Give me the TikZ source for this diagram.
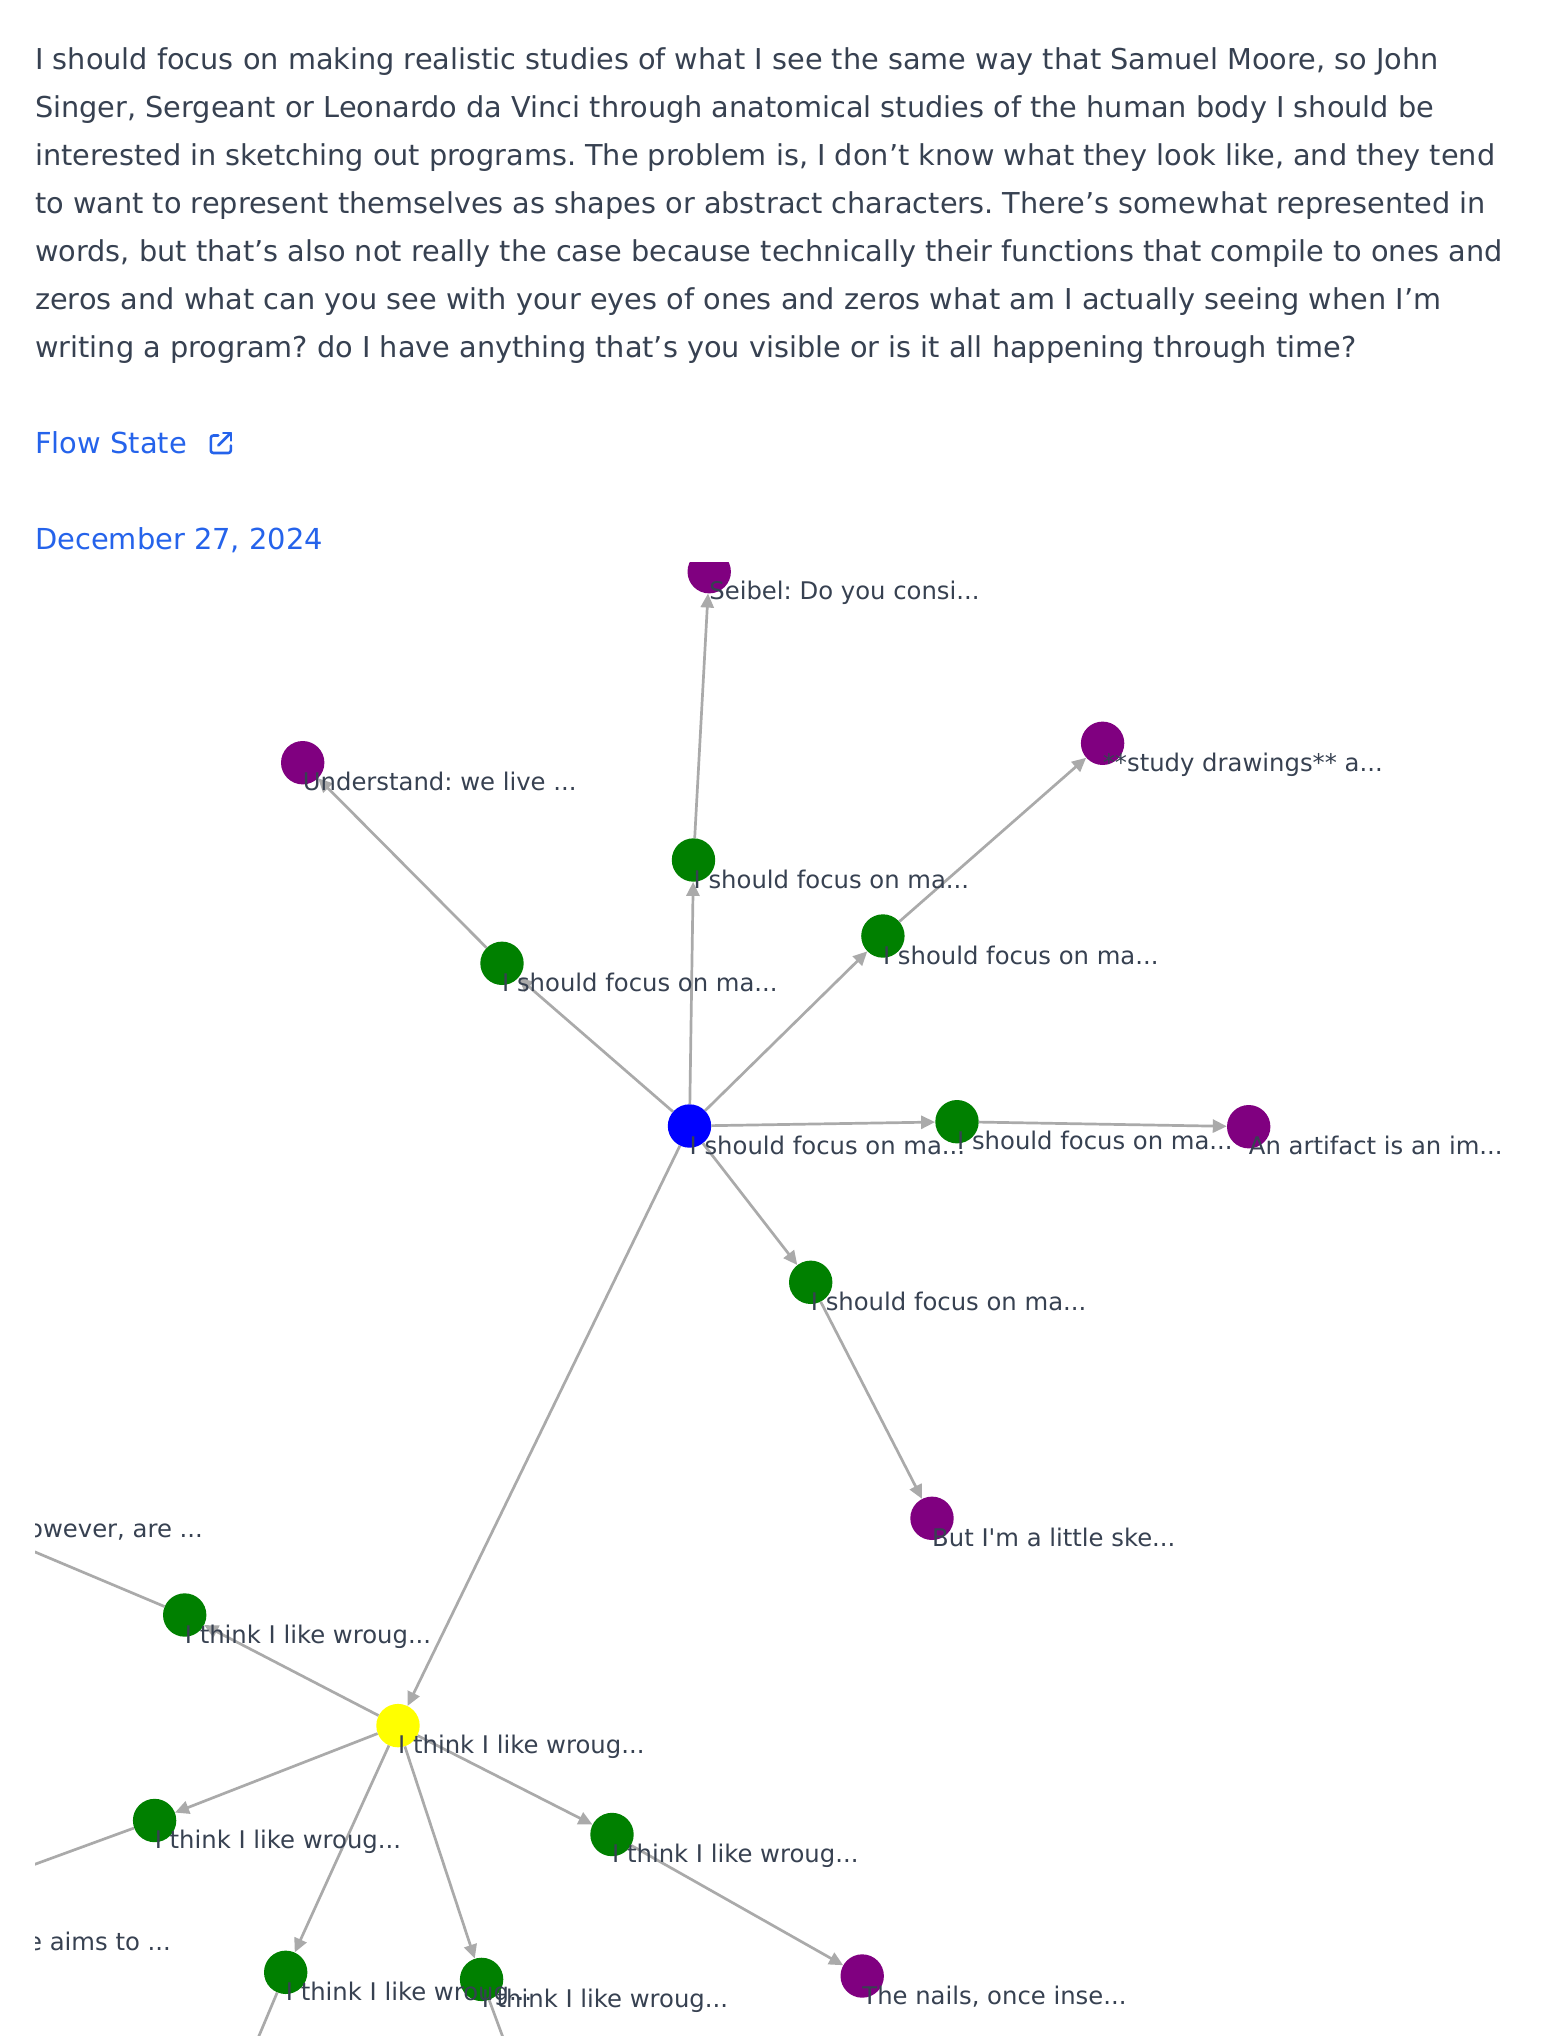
\documentclass[tikz,border=0pt]{standalone}
\usepackage{fontspec}
\setmainfont{DejaVu Sans}[Ligatures=TeXOff]
\usetikzlibrary{arrows.meta,calc}
\definecolor{txt}{HTML}{374151}
\definecolor{lnk}{HTML}{2563EB}
\definecolor{edgegray}{HTML}{AAAAAA}
\definecolor{ngreen}{HTML}{008000}
\definecolor{npurple}{HTML}{800080}
\definecolor{nblue}{HTML}{0000FF}
\definecolor{nyellow}{HTML}{FFFF00}
\frenchspacing
\begin{document}
\begin{tikzpicture}[x=1pt,y=-1pt,
  bodyline/.style={anchor=base west, inner sep=0pt, text=txt, font=\fontsize{28.75}{35}\selectfont},
  linktext/.style={anchor=base west, inner sep=0pt, text=lnk, font=\fontsize{28.9}{35}\selectfont},
  gnode/.style={circle, fill=#1, minimum size=43.4pt, inner sep=0pt},
  lbl/.style={anchor=base west, inner sep=0pt, text=txt, font=\fontsize{24.3}{29}\selectfont},
  conn/.style={draw=edgegray, line width=2.7pt, -{Triangle[length=14pt,width=13pt]}},
  iconline/.style={draw=lnk, line width=2.6pt, line cap=round, line join=round}]
\useasboundingbox (0,0) rectangle (1546,2036);
\fill[white] (0,0) rectangle (1546,2036);
% body text
\node[bodyline] (l1) at (35,69.3) {I should focus on making realistic studies of what I see the same way that Samuel Moore, so John};
\node[bodyline] (l2) at (35,117.35) {Singer, Sergeant or Leonardo da Vinci through anatomical studies of the human body I should be};
\node[bodyline] (l3) at (35,165.4) {interested in sketching out programs. The problem is, I don’t know what they look like, and they tend};
\node[bodyline] (l4) at (35,213.45) {to want to represent themselves as shapes or abstract characters. There’s somewhat represented in};
\node[bodyline] (l5) at (35,261.5) {words, but that’s also not really the case because technically their functions that compile to ones and};
\node[bodyline] (l6) at (35,309.55) {zeros and what can you see with your eyes of ones and zeros what am I actually seeing when I’m};
\node[bodyline] (l7) at (35,357.6) {writing a program? do I have anything that’s you visible or is it all happening through time?};
% link and date
\node[linktext] (flow) at (35,453.3) {Flow State};
\begin{scope}[shift={(205.8,428)}, x=1.25pt, y=-1.25pt]
  \draw[iconline, rounded corners=2.5pt] (10,6) -- (4,6) -- (4,20) -- (20,20) -- (20,14);
  \draw[iconline] (14,4) -- (20,4) -- (20,10);
  \draw[iconline] (20,4) -- (10,14);
\end{scope}
\node[linktext] (date) at (35,549) {December 27, 2024};
% graph
\begin{scope}
\clip (35,562) rectangle (1546,2036);
\node[gnode=nblue] (blue) at (689.5,1126) {};
\node[gnode=npurple] (seibel) at (709.2,571.7) {};
\node[gnode=ngreen] (A) at (693.5,860) {};
\node[gnode=npurple] (under) at (302.7,762.7) {};
\node[gnode=ngreen] (B) at (502,963.3) {};
\node[gnode=ngreen] (C) at (882.9,936) {};
\node[gnode=npurple] (study) at (1102.6,743.3) {};
\node[gnode=ngreen] (D) at (957,1121.7) {};
\node[gnode=npurple] (artifact) at (1248.7,1126.7) {};
\node[gnode=ngreen] (E) at (810.7,1282.3) {};
\node[gnode=npurple] (skeptic) at (932,1518.3) {};
\node[gnode=nyellow] (yellow) at (398,1725.6) {};
\node[gnode=ngreen] (F) at (184.7,1615) {};
\node[gnode=ngreen] (G) at (154.6,1820.5) {};
\node[gnode=ngreen] (H) at (612,1834.5) {};
\node[gnode=npurple] (nails) at (862.2,1976) {};
\node[gnode=ngreen] (I) at (285.7,1972.3) {};
\node[gnode=ngreen] (J) at (481.6,1979.4) {};
\coordinate (offF) at (-67,1509);
\coordinate (offG) at (-123,1922);
\coordinate (offI) at (232,2100);
\coordinate (offJ) at (526,2100);
% edges
\draw[conn] (blue) -- (A);
\draw[conn] (A) -- (seibel);
\draw[conn] (blue) -- (B);
\draw[conn] (B) -- (under);
\draw[conn] (blue) -- (C);
\draw[conn] (C) -- (study);
\draw[conn] (blue) -- (D);
\draw[conn] (D) -- (artifact);
\draw[conn] (blue) -- (E);
\draw[conn] (E) -- (skeptic);
\draw[conn] (blue) -- (yellow);
\draw[conn] (yellow) -- (F);
\draw[conn] (F) -- (offF);
\draw[conn] (yellow) -- (G);
\draw[conn] (G) -- (offG);
\draw[conn] (yellow) -- (H);
\draw[conn] (H) -- (nails);
\draw[conn] (yellow) -- (I);
\draw[conn] (I) -- (offI);
\draw[conn] (yellow) -- (J);
\draw[conn] (J) -- (offJ);
% labels
\node[lbl] (tseibel) at ($(seibel)+(0,28)$) {Seibel: Do you consi...};
\node[lbl] (tA) at ($(A)+(0,28)$) {I should focus on ma...};
\node[lbl] (tunder) at ($(under)+(0,28)$) {Understand: we live ...};
\node[lbl] (tB) at ($(B)+(0,28)$) {I should focus on ma...};
\node[lbl] (tC) at ($(C)+(0,28)$) {I should focus on ma...};
\node[lbl] (tstudy) at ($(study)+(0,28)$) {**study drawings** a...};
\node[lbl] (tblue) at ($(blue)+(0,28)$) {I should focus on ma...};
\node[lbl] (tD) at ($(D)+(0,28)$) {I should focus on ma...};
\node[lbl] (tartifact) at ($(artifact)+(0,28)$) {An artifact is an im...};
\node[lbl] (tE) at ($(E)+(0,28)$) {I should focus on ma...};
\node[lbl] (tskeptic) at ($(skeptic)+(0,28)$) {But I'm a little ske...};
\node[lbl] (tyellow) at ($(yellow)+(0,28)$) {I think I like wroug...};
\node[lbl] (tF) at ($(F)+(0,28)$) {I think I like wroug...};
\node[lbl] (tG) at ($(G)+(0,28)$) {I think I like wroug...};
\node[lbl] (tH) at ($(H)+(0,28)$) {I think I like wroug...};
\node[lbl] (tnails) at ($(nails)+(0,28)$) {The nails, once inse...};
\node[lbl] (tI) at ($(I)+(0,28)$) {I think I like wroug...};
\node[lbl] (tJ) at ($(J)+(0,28)$) {I think I like wroug...};
\node[lbl] (toffF) at (28,1537) {owever, are ...};
\node[lbl] (toffG) at (27,1950) {e aims to ...};
\end{scope}
\end{tikzpicture}
\end{document}
